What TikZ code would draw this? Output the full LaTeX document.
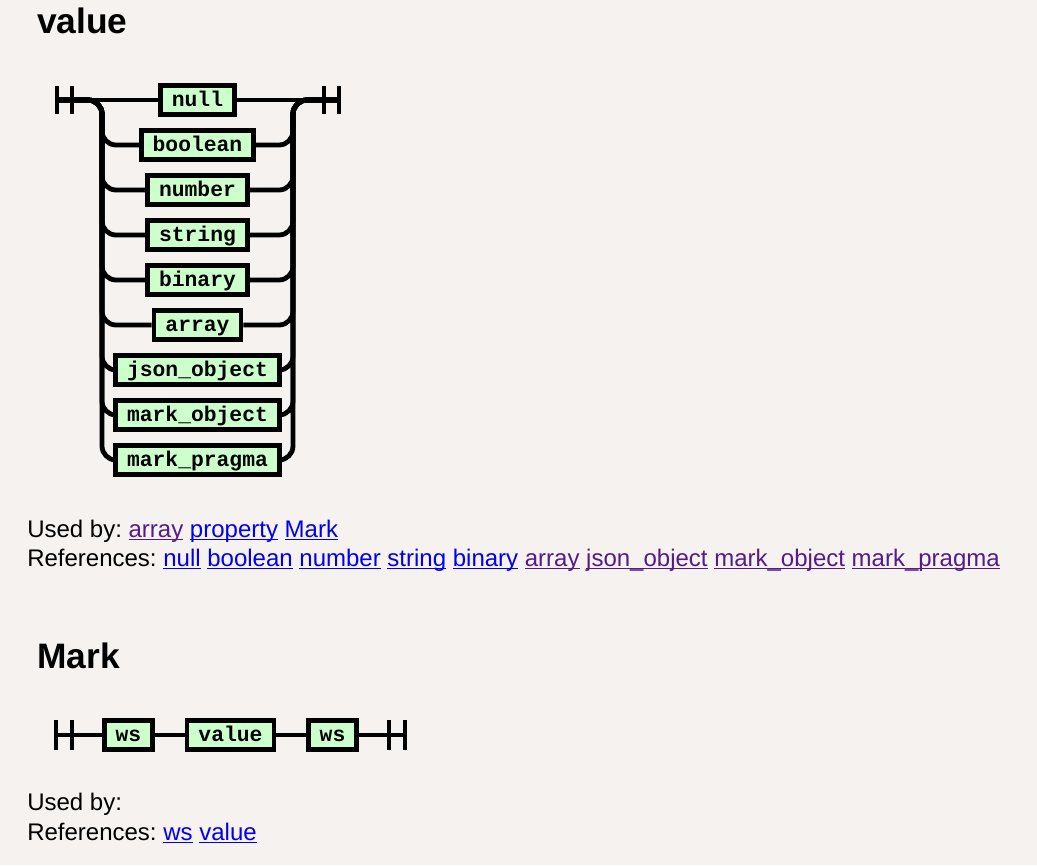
\documentclass[tikz,border=0pt]{standalone}
\usepackage{fontspec}
\setmainfont{Liberation Sans}
\newfontfamily\railfont{Liberation Mono}
\usetikzlibrary{positioning}
\frenchspacing

\definecolor{pagebg}{RGB}{245,242,239}
\definecolor{termfill}{RGB}{204,255,204}
\definecolor{linkblue}{RGB}{0,0,238}
\definecolor{linkseen}{RGB}{85,26,139}

\newcommand{\weblink}[2]{{\color{#1}\setbox0=\hbox{#2}\rlap{\rule[-2.4pt]{\wd0}{1.1pt}}\box0}}

\tikzset{
  term/.style={draw, line width=3.6pt, fill=termfill, minimum height=21.9pt, inner xsep=8.6pt,
    font=\railfont\bfseries\fontsize{16}{18}\selectfont, text height=11pt, text depth=2pt},
  rail/.style={line width=3.6pt, rounded corners=10.5pt},
  endbar/.style={line width=3.6pt},
  heading/.style={anchor=base west, inner sep=0pt, font=\bfseries\fontsize{26.5}{30}\selectfont},
  reftext/.style={anchor=base west, inner sep=0pt, font=\fontsize{18}{21}\selectfont}
}

\begin{document}
\begin{tikzpicture}[x=0.75pt, y=-0.75pt]
	     \useasboundingbox (0,0) rectangle (1037,865);
	     \fill[pagebg] (0,0) rectangle (1037,865);

	     % nodes %
		 \node[heading] (valuetitle) at (37,33) {value};
		 \coordinate (vin) at (57,100);
		 \coordinate (vout) at (339,100);
		 \coordinate (lrail) at (102,100);
		 \coordinate (rrail) at (293,100);
		 \node[term] (null) at (197.5,100) {null};
		 \node[term, below of = null, node distance=33.75pt] (boolean) {boolean};
		 \node[term, below of = boolean, node distance=33.75pt] (number) {number};
		 \node[term, below of = number, node distance=33.75pt] (string) {string};
		 \node[term, below of = string, node distance=33.75pt] (binary) {binary};
		 \node[term, below of = binary, node distance=33.75pt] (array) {array};
		 \node[term, below of = array, node distance=33.75pt] (jsonobj) {json\_object};
		 \node[term, below of = jsonobj, node distance=33.75pt] (markobj) {mark\_object};
		 \node[term, below of = markobj, node distance=33.75pt] (markpragma) {mark\_pragma};

		 \node[reftext] (valueused) at (27,537) {Used by: \weblink{linkseen}{array} \weblink{linkblue}{property} \weblink{linkblue}{Mark}};
		 \node[reftext] (valuerefs) at (27,566) {References: \weblink{linkblue}{null} \weblink{linkblue}{boolean} \weblink{linkblue}{number} \weblink{linkblue}{string} \weblink{linkblue}{binary} \weblink{linkseen}{array} \weblink{linkseen}{json\_object} \weblink{linkseen}{mark\_object} \weblink{linkseen}{mark\_pragma}};

		 \node[heading] (marktitle) at (37,668) {Mark};
		 \coordinate (min) at (56,735);
		 \coordinate (mout) at (405,735);
		 \node[term] (ws1) at (128.5,735) {ws};
		 \node[term, right of = ws1, node distance=76.5pt] (value) {value};
		 \node[term, right of = value, node distance=76.5pt] (ws2) {ws};
		 \node[reftext] (markused) at (27,810) {Used by:};
		 \node[reftext] (markrefs) at (27,840) {References: \weblink{linkblue}{ws} \weblink{linkblue}{value}};

		 % edges %
		 \draw[rail] (vin) -- (null) -- (vout);
		 \foreach \b in {boolean,number,string,binary,array,jsonobj,markobj,markpragma} {
		   \draw[rail] (vin) -| (lrail |- \b.west) -- (\b.west);
		   \draw[rail] (\b.east) -- (rrail |- \b.east) |- (vout);
		 }
		 \draw[endbar] ([yshift=10.5pt]vin) -- ([yshift=-10.5pt]vin);
		 \draw[endbar] ([xshift=11.25pt, yshift=10.5pt]vin) -- ([xshift=11.25pt, yshift=-10.5pt]vin);
		 \draw[endbar] ([yshift=10.5pt]vout) -- ([yshift=-10.5pt]vout);
		 \draw[endbar] ([xshift=-11.25pt, yshift=10.5pt]vout) -- ([xshift=-11.25pt, yshift=-10.5pt]vout);

		 \draw[rail] (min) -- (ws1) -- (value) -- (ws2) -- (mout);
		 \draw[endbar] ([yshift=11.25pt]min) -- ([yshift=-11.25pt]min);
		 \draw[endbar] ([xshift=12pt, yshift=11.25pt]min) -- ([xshift=12pt, yshift=-11.25pt]min);
		 \draw[endbar] ([yshift=11.25pt]mout) -- ([yshift=-11.25pt]mout);
		 \draw[endbar] ([xshift=-12pt, yshift=11.25pt]mout) -- ([xshift=-12pt, yshift=-11.25pt]mout);
	     \end{tikzpicture}
\end{document}
